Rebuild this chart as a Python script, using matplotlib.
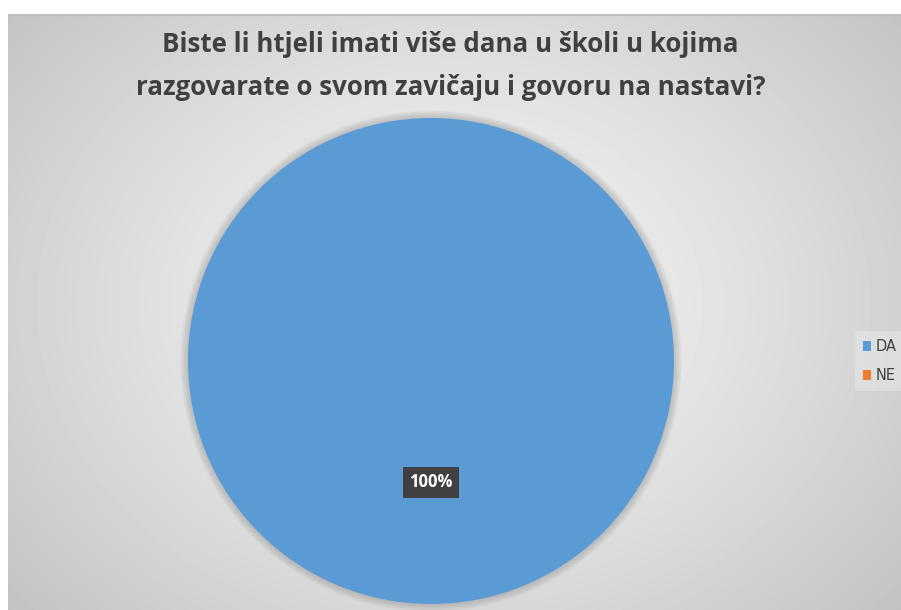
import numpy as np
import matplotlib
matplotlib.use("Agg")
import matplotlib.pyplot as plt
from matplotlib.patches import Circle

# data
labels = ["DA", "NE"]
values = [100, 0]
colors = ["#5B9BD5", "#ED7D31"]
title = "Biste li htjeli imati više dana u školi u kojima\nrazgovarate o svom zavičaju i govoru na nastavi?"

W, H = 901, 610
fig = plt.figure(figsize=(W / 100, H / 100), dpi=100)
fig.patch.set_facecolor("white")

# chart area background with radial gradient
x0, y0 = 8, 14
bg = fig.add_axes([x0 / W, 0, 1 - x0 / W, 1 - y0 / H])
yy, xx = np.mgrid[0:H - y0, 0:W - x0]
cx, cy = 445, 290
d = np.hypot((xx - cx) / 1.0, (yy - cy) / 0.8)
d = d / d.max()
shade = 0.96 - 0.20 * d ** 1.3
bg.imshow(shade, cmap="gray", vmin=0, vmax=1, aspect="auto", interpolation="bilinear")
bg.axhline(0, color="#c0c0c0", lw=1.5)
bg.set_axis_off()

# pie
r = 243
pcx, pcy = 431, 361
ax = fig.add_axes([(pcx - r) / W, 1 - (pcy + r) / H, 2 * r / W, 2 * r / H])
ax.set_zorder(2)
ax.patch.set_visible(False)
# soft shadow around the pie
for k in range(8):
    ax.add_patch(Circle((0, 0), 1 + 0.004 * (k + 1), color="#808080", alpha=0.05, lw=0, zorder=0))
wedges, texts, autotexts = ax.pie(
    values, colors=colors, startangle=90, counterclock=False,
    autopct=lambda p: f"{p:.0f}%" if p > 0 else "", pctdistance=0.5,
    wedgeprops=dict(linewidth=0),
    textprops=dict(color="white", fontsize=12, fontweight="bold", family="Open Sans"),
)
for t in autotexts:
    t.set_bbox(dict(facecolor="#404040", edgecolor="none", pad=4.5))
ax.set_xlim(-1.05, 1.05)
ax.set_ylim(-1.05, 1.05)
ax.set_position([(pcx - r * 1.05) / W, 1 - (pcy + r * 1.05) / H, 2.1 * r / W, 2.1 * r / H])
ax.set_aspect("equal")

fig.text(0.5, 1 - 66 / H, title, ha="center", va="center", fontsize=18.6,
         fontweight="bold", color="#404040", family="Open Sans", linespacing=1.75)

leg = fig.legend(wedges, labels, loc="center left", bbox_to_anchor=(848 / W, 1 - 361 / H),
                 frameon=True, fontsize=10.5, handlelength=0.6, handleheight=0.7,
                 handletextpad=0.3, labelspacing=1.0, borderpad=0.5)
leg.get_frame().set_facecolor("#e6e6e6")
leg.get_frame().set_edgecolor("none")
leg.get_frame().set_alpha(0.6)
for t in leg.get_texts():
    t.set_color("#404040")

fig.savefig("out.png", dpi=100)
